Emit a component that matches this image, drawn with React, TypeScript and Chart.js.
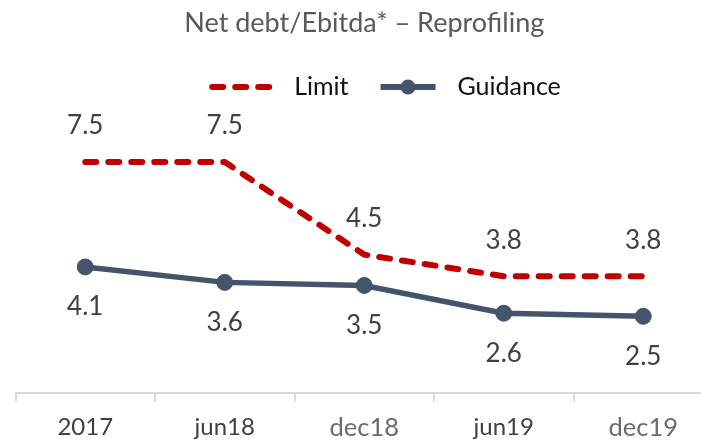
import React, { useEffect, useRef } from "react";
import { Chart, registerables } from "chart.js";

Chart.register(...registerables);

const categories = ["2017", "jun18", "dec18", "jun19", "dec19"];
const limitValues = [7.5, 7.5, 4.5, 3.8, 3.8];
const guidanceValues = [4.1, 3.6, 3.5, 2.6, 2.5];
const titleText = "Net debt/Ebitda* \u2013 Reprofiling";
const legendLabels = ["Limit", "Guidance"];

const FONT = "Lato";
const RED = "#C00000";
const BLUE = "#44546A";

const dataLabelPlugin = {
  id: "dataLabels",
  afterDatasetsDraw(chart: any) {
    const ctx = chart.ctx;
    ctx.save();
    ctx.font = `26px ${FONT}`;
    ctx.fillStyle = "#404040";
    ctx.textAlign = "center";
    ctx.textBaseline = "middle";
    chart.data.datasets.forEach((ds: any, di: number) => {
      const meta = chart.getDatasetMeta(di);
      meta.data.forEach((pt: any, i: number) => {
        const v = ds.data[i];
        const dy = di === 0 ? -36 : 40;
        ctx.fillText(v.toFixed(1), pt.x, pt.y + dy);
      });
    });
    ctx.restore();
  },
};

const legendPlugin = {
  id: "customLegend",
  afterDraw(chart: any) {
    const ctx = chart.ctx;
    ctx.save();
    ctx.font = `25px ${FONT}`;
    const w0 = ctx.measureText(legendLabels[0]).width;
    const w1 = ctx.measureText(legendLabels[1]).width;
    const s0 = 60, g0 = 25, gap = 32, s1 = 55, g1 = 22;
    const total = s0 + g0 + w0 + gap + s1 + g1 + w1;
    let x = chart.width / 2 - total / 2;
    const y = 87;
    ctx.strokeStyle = RED;
    ctx.lineWidth = 6;
    ctx.lineCap = "round";
    ctx.setLineDash([11, 12]);
    ctx.beginPath();
    ctx.moveTo(x + 3, y);
    ctx.lineTo(x + s0, y);
    ctx.stroke();
    ctx.setLineDash([]);
    x += s0 + g0;
    ctx.fillStyle = "#111111";
    ctx.textBaseline = "middle";
    ctx.textAlign = "left";
    ctx.fillText(legendLabels[0], x, y);
    x += w0 + gap;
    ctx.strokeStyle = BLUE;
    ctx.lineWidth = 6;
    ctx.lineCap = "butt";
    ctx.beginPath();
    ctx.moveTo(x, y);
    ctx.lineTo(x + s1, y);
    ctx.stroke();
    ctx.fillStyle = BLUE;
    ctx.beginPath();
    ctx.arc(x + s1 / 2, y, 7.5, 0, Math.PI * 2);
    ctx.fill();
    x += s1 + g1;
    ctx.fillStyle = "#111111";
    ctx.fillText(legendLabels[1], x, y);
    ctx.restore();
  },
};

export default function App() {
  const ref = useRef<HTMLCanvasElement>(null);
  useEffect(() => {
    if (!ref.current) return;
    const chart = new Chart(ref.current, {
      type: "line",
      data: {
        labels: categories,
        datasets: [
          {
            label: legendLabels[0],
            data: limitValues,
            borderColor: RED,
            borderWidth: 6,
            borderDash: [11, 12],
            borderCapStyle: "round",
            pointRadius: 0,
            tension: 0,
            fill: false,
          },
          {
            label: legendLabels[1],
            data: guidanceValues,
            borderColor: BLUE,
            backgroundColor: BLUE,
            borderWidth: 5.5,
            pointRadius: 8,
            pointBorderWidth: 1,
            pointBackgroundColor: BLUE,
            pointBorderColor: BLUE,
            tension: 0,
            fill: false,
          },
        ],
      },
      options: {
        animation: false,
        responsive: true,
        maintainAspectRatio: false,
        layout: { padding: { left: 15.5, right: 57, top: 0, bottom: 0 } },
        plugins: {
          legend: { display: false },
          tooltip: { enabled: false },
          title: {
            display: true,
            text: titleText,
            color: "#595959",
            font: { family: FONT, size: 27, weight: "normal" },
            padding: { top: 7, bottom: 45.6 },
          },
        },
        scales: {
          x: {
            offset: true,
            grid: {
              offset: true,
              drawOnChartArea: false,
              drawTicks: true,
              tickLength: 8,
              color: "#d9d9d9",
              lineWidth: 2,
            },
            border: { display: true, color: "#d9d9d9", width: 2 },
            ticks: {
              padding: 11,
              maxRotation: 0,
              autoSkip: false,
              color: (c: any) =>
                String(categories[c.index]).startsWith("dec") ? "#6b6b6b" : "#404040",
              font: (c: any) => ({
                family: FONT,
                size: String(categories[c.index]).startsWith("dec") ? 25.5 : 24,
              }),
            },
          },
          y: {
            display: false,
            min: 0,
            max: 10,
          },
        },
      },
      plugins: [dataLabelPlugin, legendPlugin],
    });
    return () => chart.destroy();
  }, []);
  return (
    <div
      style={{
        position: "fixed",
        left: 0,
        top: 0,
        width: 701,
        height: 442,
        overflow: "hidden",
        background: "#ffffff",
      }}
    >
      <div style={{ position: "relative", width: 770, height: 454 }}>
        <canvas ref={ref} />
      </div>
    </div>
  );
}
